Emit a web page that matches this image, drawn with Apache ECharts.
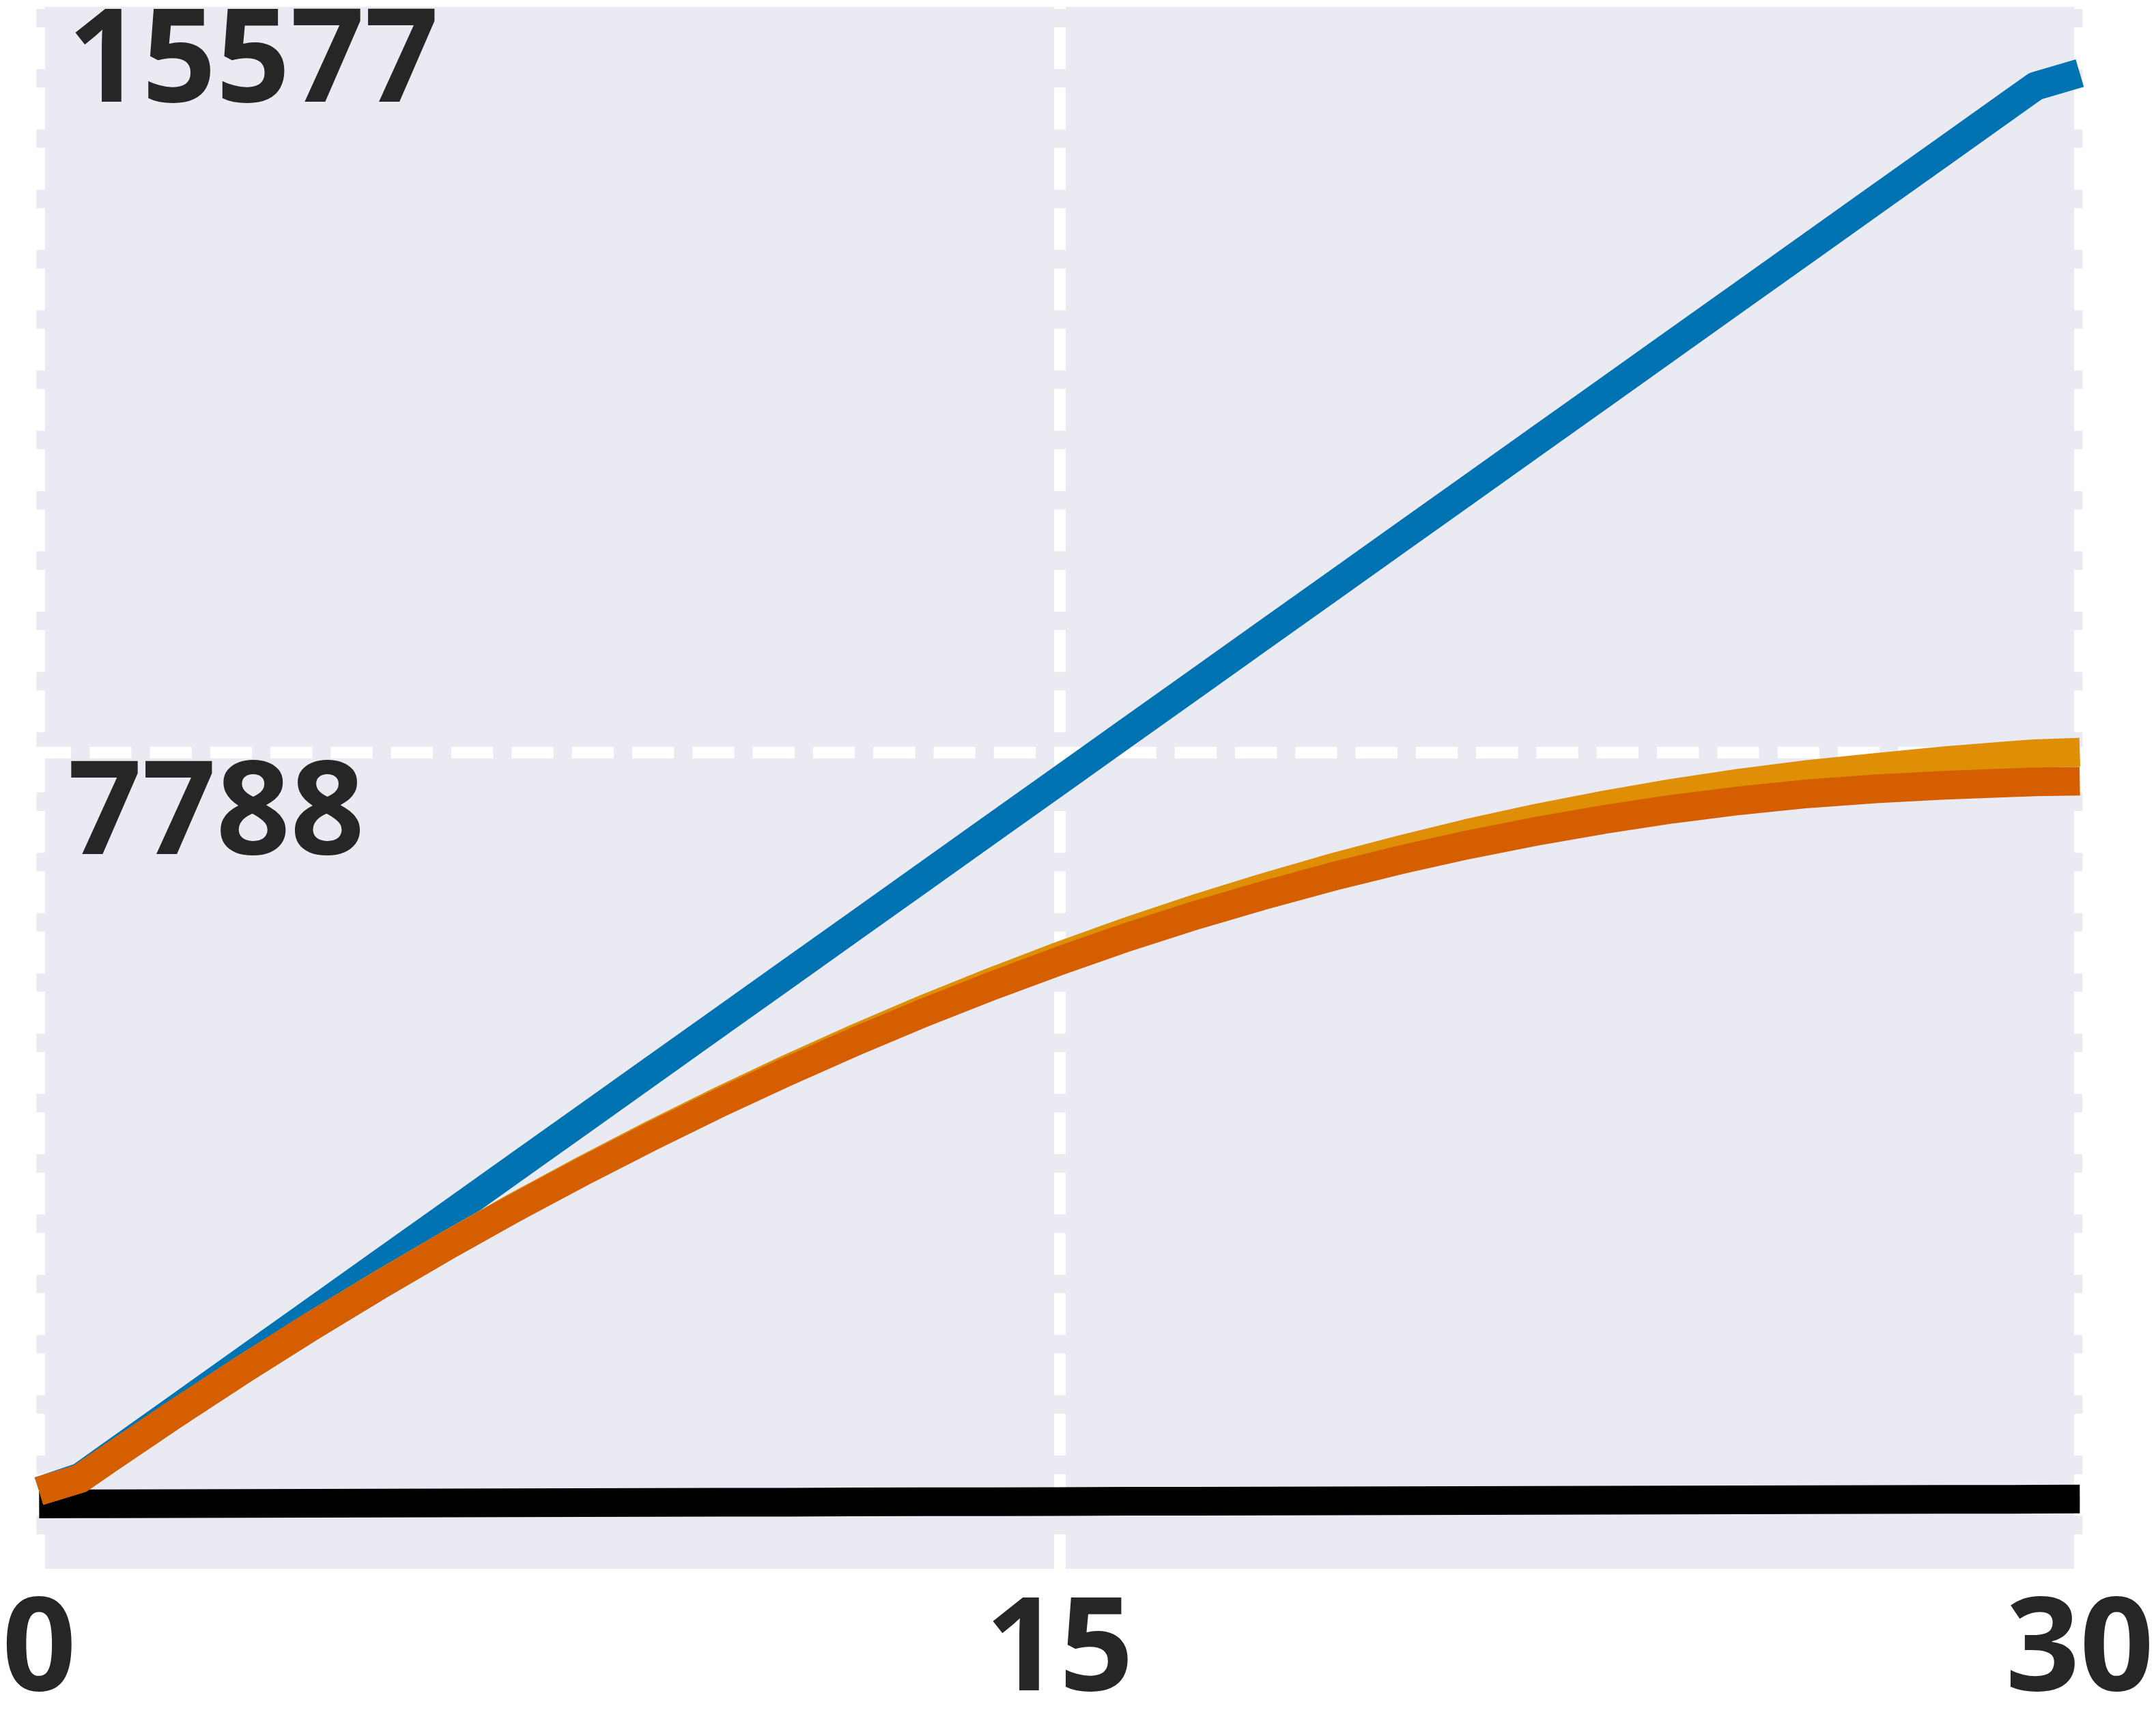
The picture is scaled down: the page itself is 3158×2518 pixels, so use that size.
<!DOCTYPE html>
<html>
<head>
<meta charset="utf-8">
<script src="https://cdn.jsdelivr.net/npm/echarts@6/dist/echarts.min.js"></script>
<style>
html,body{margin:0;padding:0;background:#ffffff;}
#chart{width:3158px;height:2518px;}
</style>
</head>
<body>
<div id="chart"></div>
<script>
// x positions of the sampled points
var xs = [0, 0.6, 1, 2, 3, 4, 5, 6, 7, 8, 9, 10, 11, 12, 13, 14, 15, 16, 17, 18, 19, 20, 21, 22, 23, 24, 25, 26, 27, 28, 29, 29.35, 30];
// series values
var blueVals = [140, 282, 482, 983, 1484, 1985, 2486, 2987, 3488, 3989, 4490, 4991, 5492, 5993, 6494, 6995, 7496, 7997, 8498, 8999, 9500, 10001, 10502, 11003, 11504, 12005, 12506, 13007, 13508, 14009, 14510, 14685, 14820];
var lightOrangeVals = [140, 268, 463, 939, 1400, 1844, 2272, 2685, 3082, 3462, 3827, 4176, 4508, 4825, 5126, 5410, 5679, 5932, 6168, 6387, 6591, 6778, 6950, 7104, 7242, 7364, 7470, 7559, 7632, 7700, 7756, 7775, 7790];
var darkOrangeVals = [140, 268, 463, 939, 1399, 1842, 2269, 2680, 3074, 3450, 3811, 4156, 4483, 4795, 5090, 5368, 5629, 5875, 6100, 6307, 6499, 6673, 6830, 6969, 7092, 7199, 7288, 7359, 7410, 7447, 7474, 7482, 7489];
var blackVals = [7, 8, 9, 10, 12, 14, 15, 17, 19, 20, 22, 24, 25, 27, 29, 30, 32, 34, 35, 37, 39, 40, 42, 44, 45, 47, 49, 50, 52, 54, 55, 56, 57];
// tick labels
var xTickVals = [0, 15, 30];
var yTickVals = [7788, 15577];

function pairs(vals){ return xs.map(function(x,i){ return [x, vals[i]]; }); }

var chart = echarts.init(document.getElementById('chart'), null, {renderer:'canvas'});
var labelFont = {fontFamily:'Open Sans', fontWeight:'bold', fontSize:190, color:'#262626',
  formatter:function(v){ return String(v); }};
function lineSeries(name, vals, color){
  return {
    name:name, type:'line', data:pairs(vals), symbol:'none', silent:true,
    lineStyle:{color:color, width:42, cap:'butt', join:'round'},
    clip:true
  };
}
chart.setOption({
  animation:false,
  backgroundColor:'#ffffff',
  grid:{left:52, right:105, top:0, bottom:220, show:true, backgroundColor:'#EAEAF2', borderWidth:0},
  xAxis:{
    type:'value', min:-0.04, max:30.04,
    axisLine:{show:false},
    axisTick:{show:false, customValues:xTickVals},
    axisLabel:Object.assign({customValues:xTickVals, margin:29, hideOverlap:false}, labelFont),
    splitLine:{show:true, lineStyle:{color:'#ffffff', width:17, type:[61.2,27.1], dashOffset:48.3}}
  },
  yAxis:{
    type:'value', min:-665, max:15577,
    axisLine:{show:false},
    axisTick:{show:false, customValues:yTickVals},
    axisLabel:Object.assign({customValues:yTickVals, inside:true, margin:46, verticalAlign:'top', align:'left', hideOverlap:false,
      showMaxLabel:true}, labelFont),
    splitLine:{show:true, lineStyle:{color:'#ffffff', width:17, type:[61.2,27.1], dashOffset:10.3}}
  },
  graphic:[{type:'rect', z:100, shape:{x:0, y:0, width:3158, height:10}, style:{fill:'#ffffff'}}],
  series:[
    lineSeries('black', blackVals, '#000000'),
    lineSeries('blue', blueVals, '#0173B2'),
    lineSeries('orange', lightOrangeVals, '#DE8F05'),
    lineSeries('darkorange', darkOrangeVals, '#D55E00')
  ]
});
</script>
</body>
</html>
